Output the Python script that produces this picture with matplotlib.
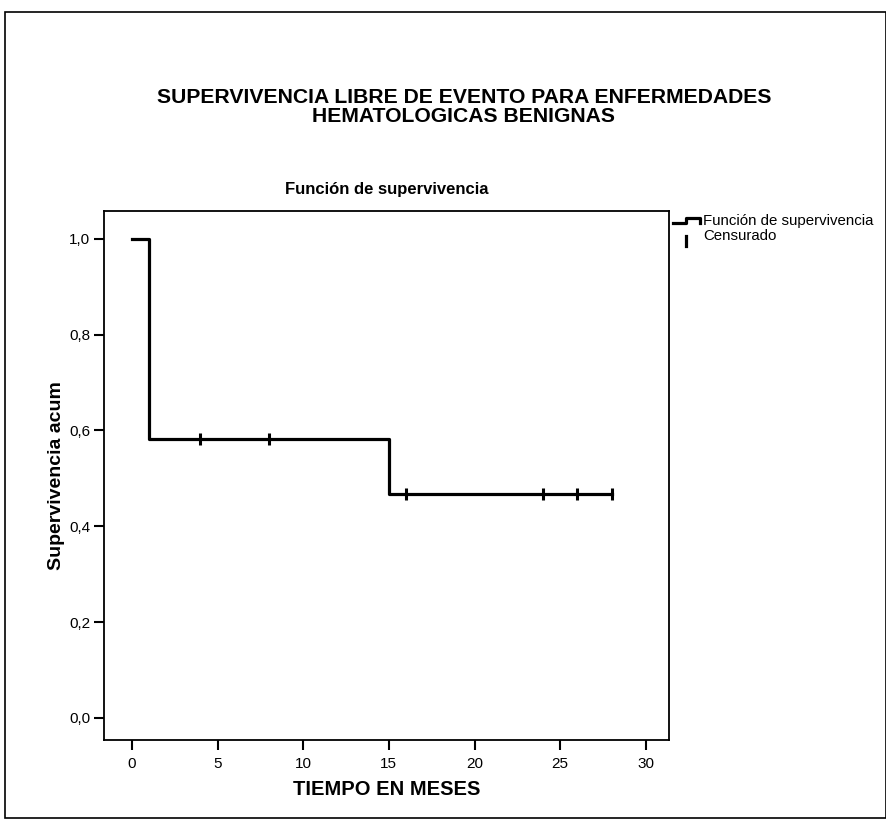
import matplotlib
matplotlib.use("Agg")
import matplotlib.pyplot as plt
from matplotlib.lines import Line2D
from matplotlib.patches import Rectangle
from matplotlib.ticker import FuncFormatter

plt.rcParams['font.family'] = ['Liberation Sans', 'DejaVu Sans']

# Kaplan-Meier step data (months, cumulative survival)
step_time = [0, 1, 15, 28]
step_surv = [1.0, 0.583, 0.467, 0.467]

# censored observations
censor_time = [4, 8, 16, 24, 26, 28]
censor_surv = [0.583, 0.583, 0.467, 0.467, 0.467, 0.467]

x_ticks = [0, 5, 10, 15, 20, 25, 30]
y_ticks = [0.0, 0.2, 0.4, 0.6, 0.8, 1.0]

fig = plt.figure(figsize=(8.87, 8.24), dpi=100)

# outer frame round the whole figure
fig.patches.append(Rectangle((0.006, 0.007), 0.993, 0.978, transform=fig.transFigure,
                             fill=False, edgecolor='black', linewidth=1.2))

fig.text(0.523, 0.870, 'SUPERVIVENCIA LIBRE DE EVENTO PARA ENFERMEDADES\nHEMATOLOGICAS BENIGNAS',
         ha='center', va='center', fontsize=15.2, fontweight='bold', linespacing=1.0)

ax = fig.add_axes([0.1172, 0.1019, 0.637, 0.642])
ax.step(step_time, step_surv, where='post', color='black', linewidth=2.3)
ax.plot(censor_time, censor_surv, linestyle='none', marker='|', markersize=8,
        markeredgewidth=2.2, color='black')

ax.set_xlim(-1.63, 31.35)
ax.set_ylim(-0.046, 1.058)
ax.set_xticks(x_ticks)
ax.set_yticks(y_ticks)
ax.yaxis.set_major_formatter(FuncFormatter(lambda v, p: f'{v:.1f}'.replace('.', ',')))
ax.tick_params(direction='out', length=7, width=1.5, labelsize=11, pad=3)
ax.tick_params(axis='x', pad=5)
for s in ax.spines.values():
    s.set_linewidth(1.3)

ax.set_title('Función de supervivencia', fontsize=12, fontweight='bold', pad=12)
ax.set_xlabel('TIEMPO EN MESES', fontsize=14.5, fontweight='bold', labelpad=7)
ax.set_ylabel('Supervivencia acum', fontsize=14, fontweight='bold', labelpad=3)

# legend drawn by hand outside the axes
lx = [0.759, 0.773, 0.773, 0.789, 0.789]
ly = [0.7295, 0.7295, 0.7355, 0.7355, 0.729]
fig.add_artist(Line2D(lx, ly, transform=fig.transFigure, color='black', linewidth=2.3))
fig.add_artist(Line2D([0.7735, 0.7735], [0.702, 0.713], transform=fig.transFigure,
                      color='black', linewidth=2.3))
fig.text(0.793, 0.732, 'Función de supervivencia', fontsize=10.8, va='center', ha='left')
fig.text(0.793, 0.714, 'Censurado', fontsize=10.8, va='center', ha='left')

fig.savefig('out.png', dpi=100)
